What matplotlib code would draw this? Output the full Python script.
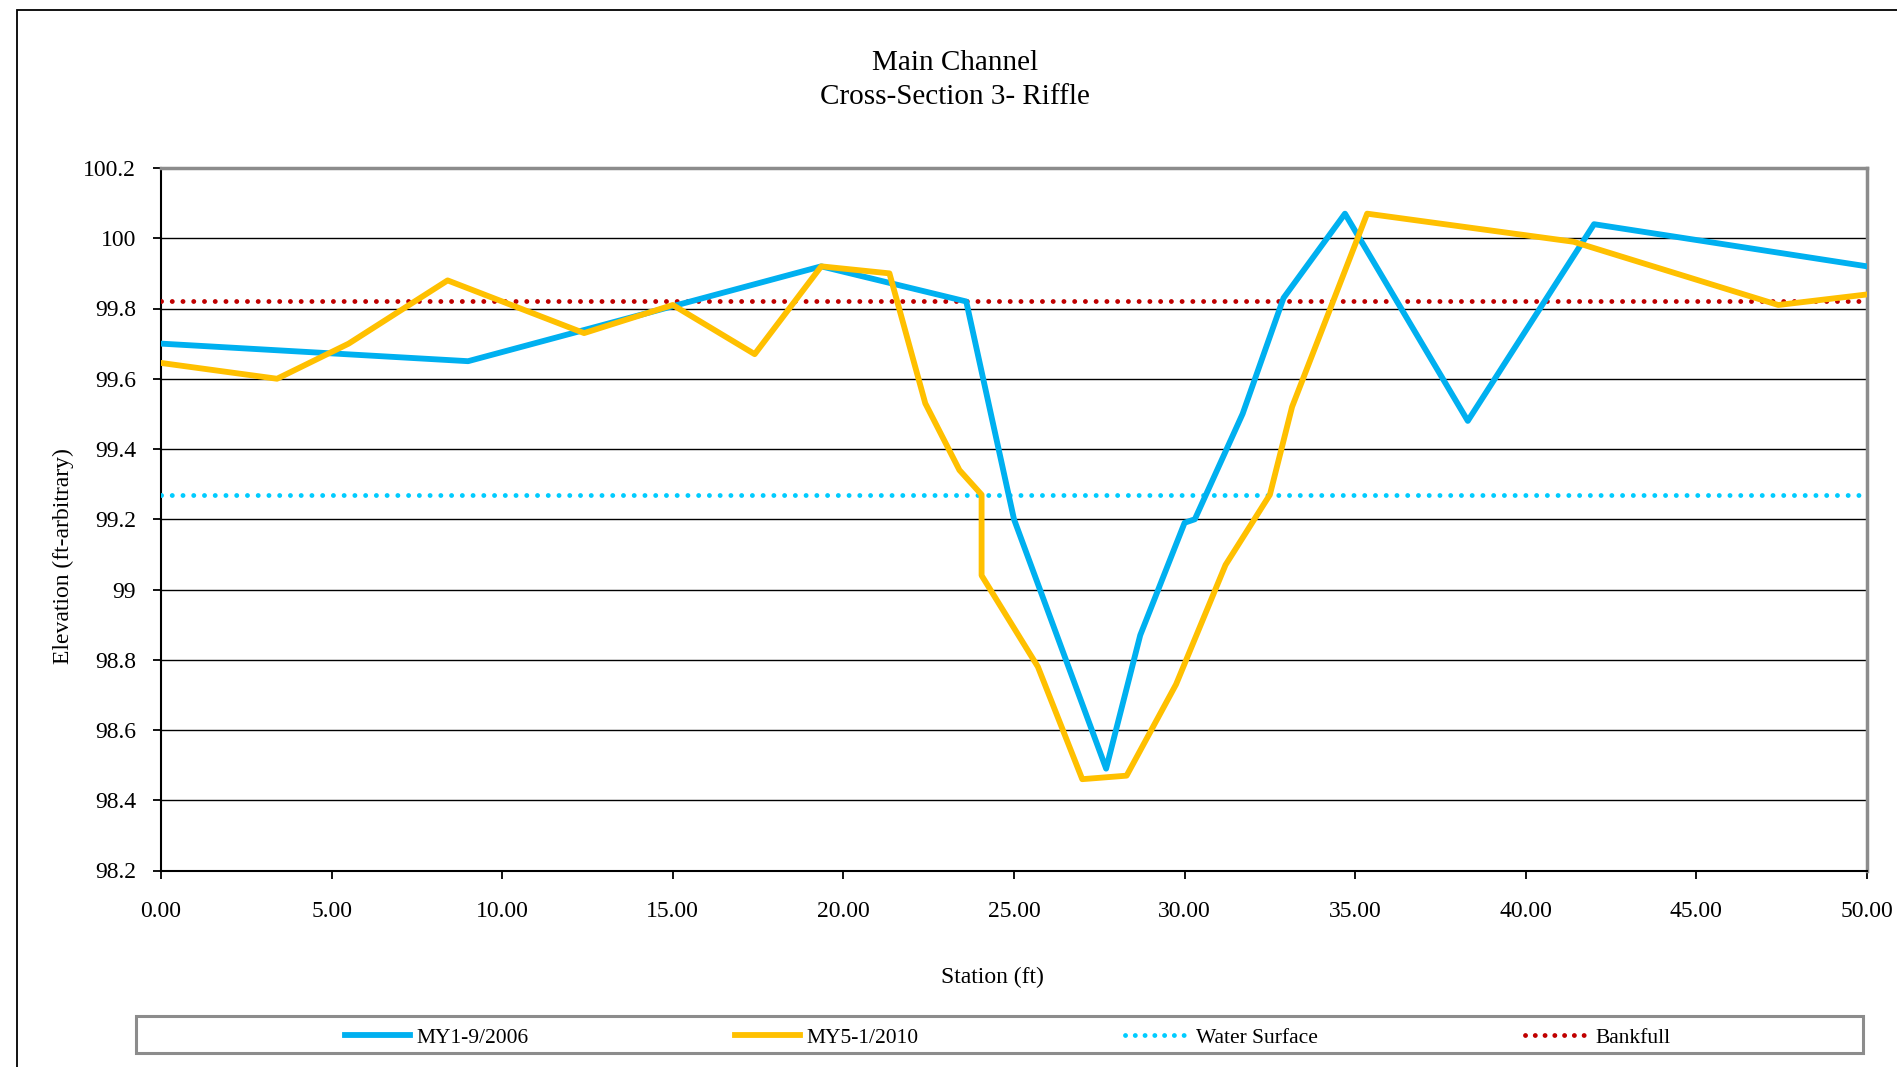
import numpy as np
import matplotlib.pyplot as plt
from matplotlib.patches import Rectangle
from matplotlib.lines import Line2D

plt.rcParams['font.family'] = ['Liberation Serif', 'DejaVu Serif']

# ---- data ----
st_2006 = [0.0, 9.0, 19.35, 23.6, 25.0, 27.7, 28.7, 30.0, 30.3, 31.7, 32.9, 34.7, 38.3, 42.0, 50.0]
el_2006 = [99.70, 99.65, 99.92, 99.82, 99.20, 98.49, 98.87, 99.19, 99.20, 99.50, 99.83, 100.07, 99.48, 100.04, 99.92]

st_2010 = [0.0, 3.4, 5.5, 8.4, 12.4, 15.0, 17.4, 19.35, 21.35, 22.4, 23.4, 24.05, 24.05,
           25.7, 27.0, 28.3, 29.75, 31.2, 32.5, 33.15, 35.35, 41.4, 47.4, 50.0]
el_2010 = [99.645, 99.60, 99.70, 99.88, 99.73, 99.81, 99.67, 99.92, 99.90, 99.53, 99.34, 99.27, 99.04,
           98.78, 98.46, 98.47, 98.73, 99.07, 99.27, 99.52, 100.07, 99.99, 99.81, 99.84]

water_surface = 99.27
bankfull = 99.82
x_range = [0.0, 50.0]

labels = ["MY1-9/2006", "MY5-1/2010", "Water Surface", "Bankfull"]
c_2006, c_2010 = "#00B0F0", "#FFC000"
c_ws, c_bf = "#00CCFF", "#C00000"

W, H = 1897, 1067
fig = plt.figure(figsize=(W / 100, H / 100), dpi=100)

# outer chart frame (only left/top visible in the crop)
fig.patches.append(Rectangle((17 / W, -0.1), 1.2, 1 - 10 / H + 0.1, transform=fig.transFigure,
                             fill=False, edgecolor="black", lw=1.3))

ax = fig.add_axes([161 / W, 1 - 870.5 / H, (1867 - 161) / W, (870.5 - 168) / H])

ax.plot(st_2006, el_2006, color=c_2006, lw=4.2, solid_joinstyle="round", zorder=4)
ax.plot(st_2010, el_2010, color=c_2010, lw=4.2, solid_joinstyle="round", zorder=5)
ax.plot(x_range, [water_surface] * 2, color=c_ws, lw=3.5, ls=(0, (0.01, 2.2)),
        dash_capstyle="round", zorder=3)
ax.plot(x_range, [bankfull] * 2, color=c_bf, lw=3.5, ls=(0, (0.01, 2.2)),
        dash_capstyle="round", zorder=3)

ax.set_xlim(0, 50)
ax.set_ylim(98.2, 100.2)
ax.set_xticks(np.arange(0, 50.1, 5))
ax.set_xticklabels([f"{v:.2f}" for v in np.arange(0, 50.1, 5)])
yt = np.round(np.arange(98.2, 100.21, 0.2), 1)
ax.set_yticks(yt)
ax.set_yticklabels([f"{v:g}" for v in yt])
ax.grid(axis="y", color="black", lw=1.0)
ax.set_axisbelow(True)

for s in ["left", "bottom"]:
    ax.spines[s].set_color("black")
    ax.spines[s].set_linewidth(1.5)
for s in ["top", "right"]:
    ax.spines[s].set_color("#8c8c8c")
    ax.spines[s].set_linewidth(2.5)

ax.tick_params(axis="both", direction="out", length=6, width=1.3, labelsize=17, colors="black")
ax.tick_params(axis="y", pad=12)
ax.tick_params(axis="x", pad=16)

# axis titles placed where the reference has them
fig.text(992 / W, 1 - 977 / H, "Station (ft)", ha="center", va="center", fontsize=17)
fig.text(63 / W, 1 - 556 / H, "Elevation (ft-arbitrary)", ha="center", va="center",
         rotation=90, fontsize=17)

fig.text(955 / W, 1 - 63 / H, "Main Channel", ha="center", va="center", fontsize=21)
fig.text(955 / W, 1 - 97 / H, "Cross-Section 3- Riffle", ha="center", va="center", fontsize=21)

# legend box
lx0, lx1, ly0, ly1 = 135.5, 1863, 1016, 1053
fig.patches.append(Rectangle((lx0 / W, 1 - ly1 / H), (lx1 - lx0) / W, (ly1 - ly0) / H,
                             transform=fig.transFigure, facecolor="white",
                             edgecolor="#8c8c8c", lw=2.2))
handles = [
    Line2D([], [], color=c_2006, lw=4.2),
    Line2D([], [], color=c_2010, lw=4.2),
    Line2D([], [], color=c_ws, lw=3.5, ls=(0, (0.01, 2.0)), dash_capstyle="round"),
    Line2D([], [], color=c_bf, lw=3.5, ls=(0, (0.01, 2.0)), dash_capstyle="round"),
]
fig.legend(handles, labels, loc="center", bbox_to_anchor=(1008 / W, 1 - 1037.5 / H),
           ncol=4, frameon=False, fontsize=15.5, handlelength=3.0, handletextpad=0.3,
           columnspacing=9.6, borderpad=0)

fig.savefig("out.png", dpi=100)
